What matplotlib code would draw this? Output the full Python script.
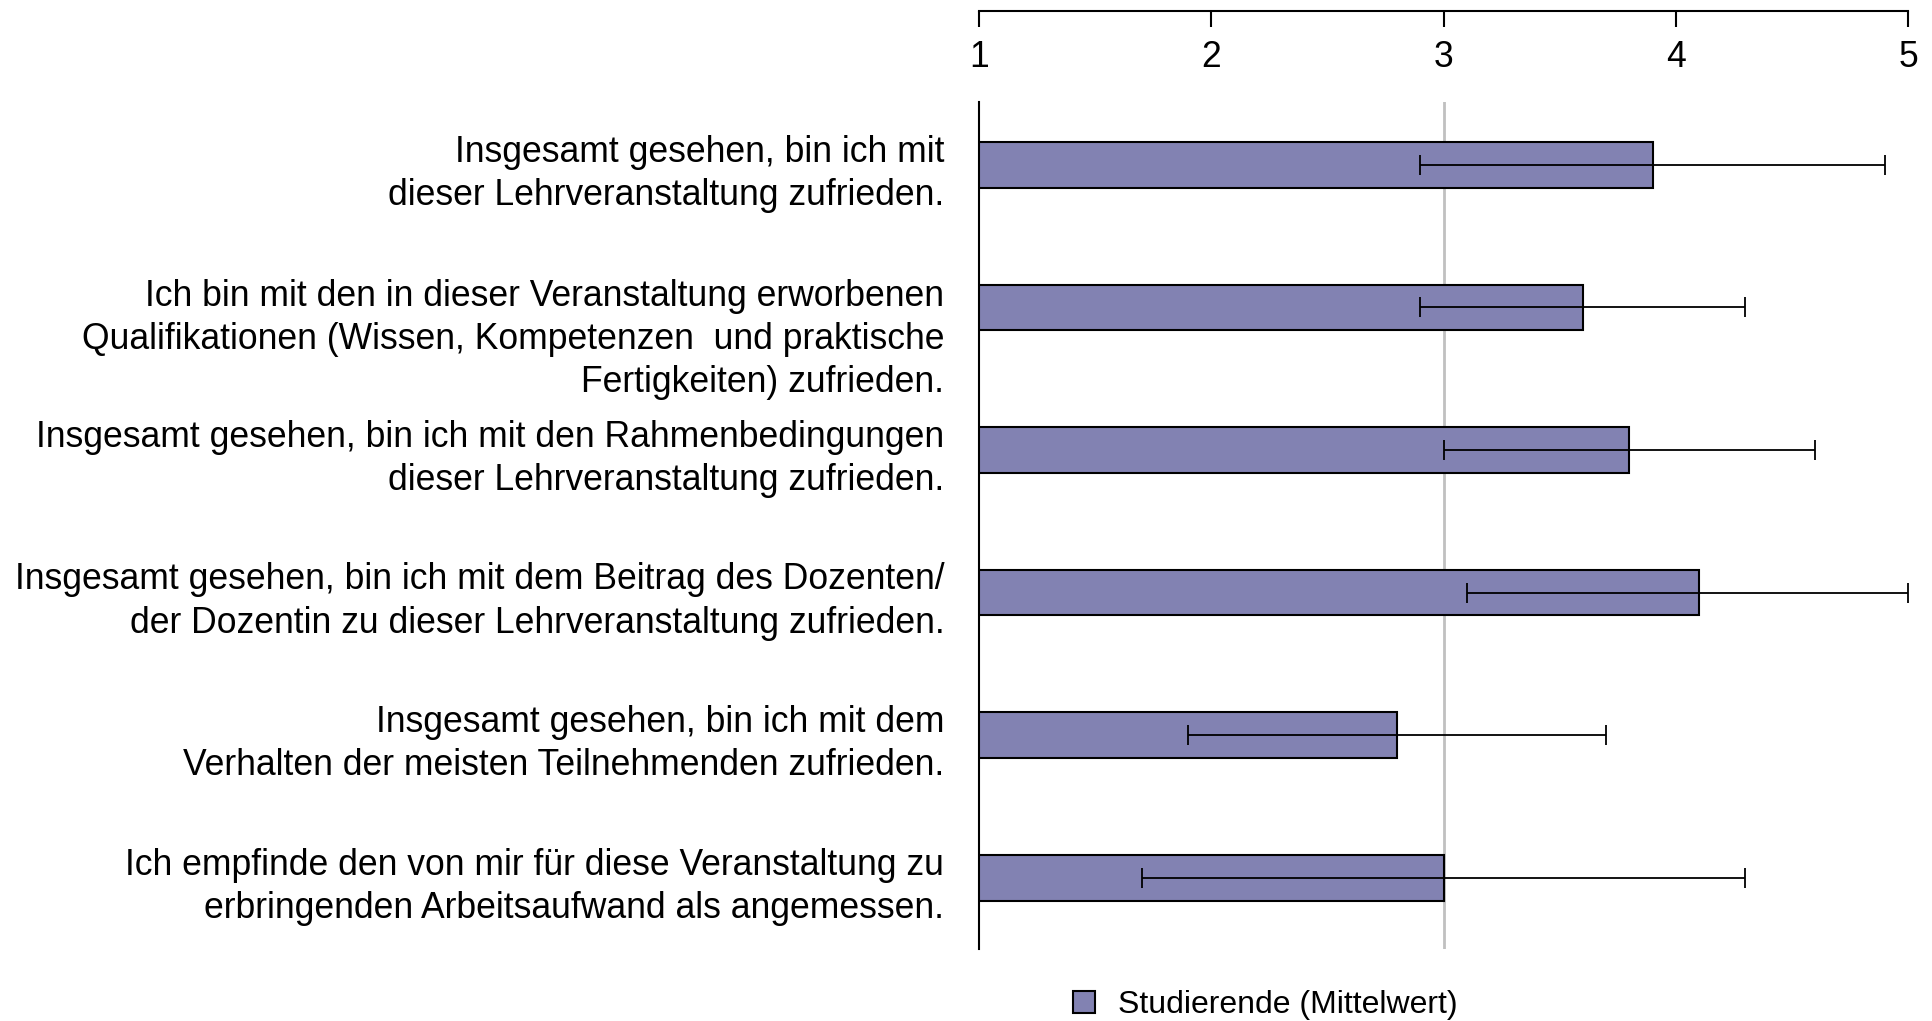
import numpy as np
import matplotlib.pyplot as plt
from matplotlib.patches import Patch
import matplotlib.transforms as mtransforms

plt.rcParams['font.family'] = ['Liberation Sans', 'DejaVu Sans']

labels = [
    'Insgesamt gesehen, bin ich mit\ndieser Lehrveranstaltung zufrieden.',
    'Ich bin mit den in dieser Veranstaltung erworbenen\n'
    'Qualifikationen (Wissen, Kompetenzen  und praktische\nFertigkeiten) zufrieden.',
    'Insgesamt gesehen, bin ich mit den Rahmenbedingungen\ndieser Lehrveranstaltung zufrieden.',
    'Insgesamt gesehen, bin ich mit dem Beitrag des Dozenten/\nder Dozentin zu dieser Lehrveranstaltung zufrieden.',
    'Insgesamt gesehen, bin ich mit dem\nVerhalten der meisten Teilnehmenden zufrieden.',
    'Ich empfinde den von mir für diese Veranstaltung zu\nerbringenden Arbeitsaufwand als angemessen.',
]
means = [3.9, 3.6, 3.8, 4.1, 2.8, 3.0]
err_low = [2.9, 2.9, 3.0, 3.1, 1.9, 1.7]
err_high = [4.9, 4.3, 4.6, 5.0, 3.7, 4.3]
scale_ticks = [1, 2, 3, 4, 5]
legend_label = 'Studierende (Mittelwert)'

W, H = 1932, 1021
fig = plt.figure(figsize=(W / 100, H / 100), dpi=100)

left, right = 979 / W, 1908 / W
top, bottom = 1 - 102 / H, 1 - 949 / H
ax = fig.add_axes([left, bottom, right - left, top - bottom])

y = np.arange(len(means))
bar_color = '#8282B2'
ax.barh(y, np.array(means) - 1, left=1, height=0.32, color=bar_color,
        edgecolor='black', linewidth=1.5, zorder=3)
lo = np.array(means) - np.array(err_low)
hi = np.array(err_high) - np.array(means)
ax.errorbar(means, y, xerr=[lo, hi], fmt='none', ecolor='black',
            elinewidth=1.3, capsize=7, capthick=1.3, zorder=4)
ax.axvline(3, color='#C0C0C0', linewidth=2, zorder=1)

ax.set_xlim(1, 5)
ax.set_ylim(len(means) - 1 + 0.5, -0.44)
for s in ['top', 'right', 'bottom']:
    ax.spines[s].set_visible(False)
ax.spines['left'].set_linewidth(1.5)
ax.set_xticks([])
ax.set_yticks(y)
ax.set_yticklabels(labels, fontsize=25.6, ha='right', va='center', linespacing=1.3)
ax.tick_params(axis='y', length=0, pad=25)
# labels sit slightly below the bar centres, the three-line one more so
for i, lbl in enumerate(ax.get_yticklabels()):
    dy = -32 if i == 1 else -9
    lbl.set_transform(lbl.get_transform() + mtransforms.ScaledTranslation(0, dy / 100, fig.dpi_scale_trans))

# scale axis at the top
ax_top = fig.add_axes([left, 1 - 11 / H, right - left, 0.0005])
ax_top.set_xlim(1, 5)
ax_top.set_yticks([])
for s in ['top', 'right', 'left']:
    ax_top.spines[s].set_visible(False)
ax_top.spines['bottom'].set_linewidth(1.5)
ax_top.set_xticks(scale_ticks)
ax_top.set_xticklabels([str(t) for t in scale_ticks], fontsize=25.6)
ax_top.tick_params(axis='x', direction='out', length=11.5, width=1.5, pad=9.5)
ax_top.patch.set_visible(False)

handle = Patch(facecolor=bar_color, edgecolor='black', linewidth=1.5)
fig.legend([handle], [legend_label], loc='center', bbox_to_anchor=(1265 / W, 1 - 1005 / H),
           frameon=False, fontsize=23, handlelength=0.7, handleheight=0.7,
           handletextpad=0.72, borderpad=0)

fig.savefig('out.png', dpi=100)
